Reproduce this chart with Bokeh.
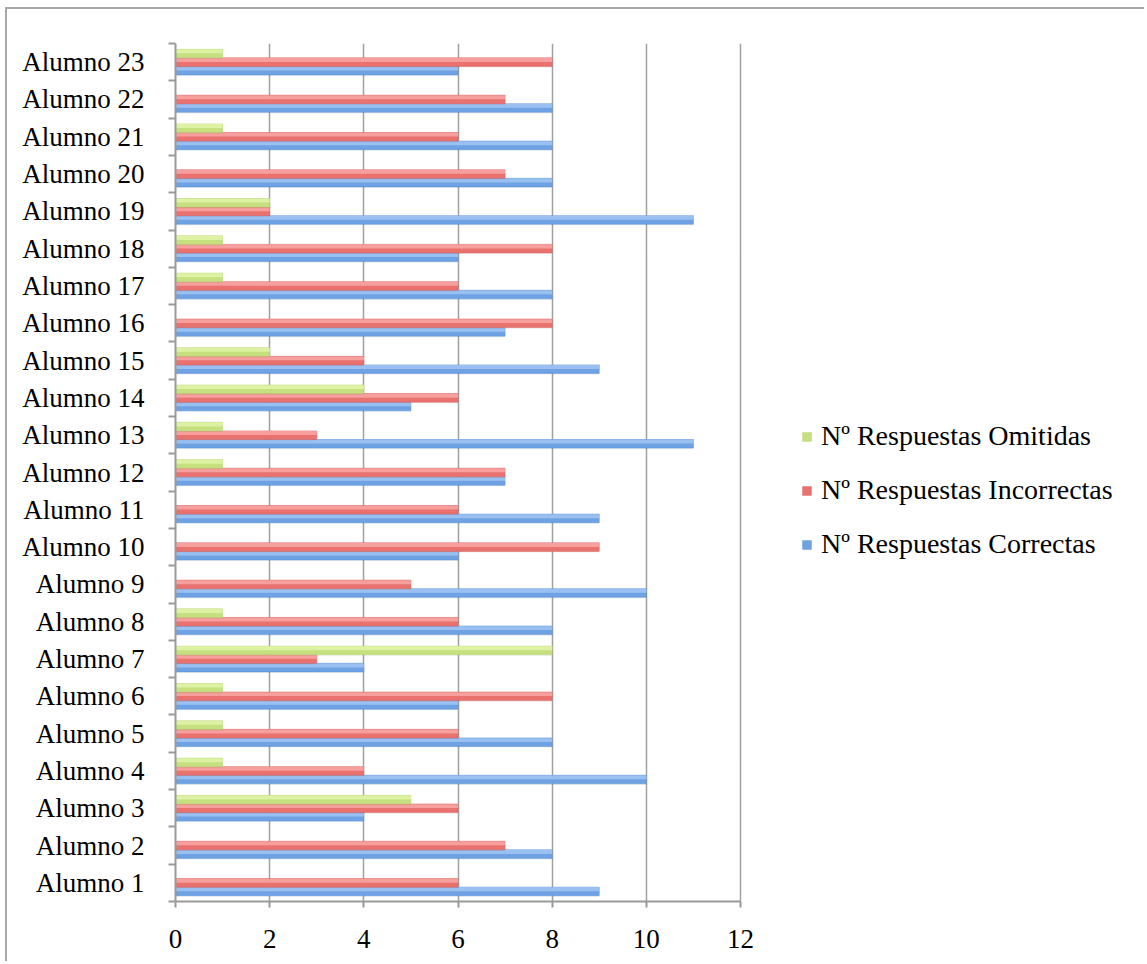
from bokeh.plotting import figure
from bokeh.models import (ColumnDataSource, FixedTicker, Legend, LegendItem, Range1d)
from bokeh.transform import dodge
from bokeh.embed import file_html
from bokeh.resources import INLINE

alumnos = [f"Alumno {i}" for i in range(1, 24)]
correctas =   [9, 8, 4, 10, 8, 6, 4, 8, 10, 6, 9, 7, 11, 5, 9, 7, 8, 6, 11, 8, 8, 8, 6]
incorrectas = [6, 7, 6, 4, 6, 8, 3, 6, 5, 9, 6, 7, 3, 6, 4, 8, 6, 8, 2, 7, 6, 7, 8]
omitidas =    [0, 0, 5, 1, 1, 1, 8, 1, 0, 0, 0, 1, 1, 4, 2, 0, 1, 1, 2, 0, 1, 0, 1]
series_names = ["Nº Respuestas Correctas", "Nº Respuestas Incorrectas", "Nº Respuestas Omitidas"]
x_ticks = [0, 2, 4, 6, 8, 10, 12]

FONT = "Liberation Serif"
FS = "27px"
W, H = 1139, 954
BL = 168                      # left border (canvas px)
axis_px = 565                 # pixel length of 0..12 on the axis
frame_w = W - BL
x_end = x_ticks[-1] * frame_w / axis_px

pos = list(range(1, len(alumnos) + 1))
src = ColumnDataSource(dict(y=pos, corr=correctas, inc=incorrectas, om=omitidas))

p = figure(width=W, height=H, output_backend="svg", toolbar_location=None,
           x_range=Range1d(0, x_end), y_range=Range1d(0.5, 23.5),
           min_border_left=BL, min_border_right=0, min_border_top=34,
           min_border_bottom=62, outline_line_color=None,
           styles={"border-left": "2px solid #a8a8a8", "border-top": "2px solid #a8a8a8",
                   "margin-left": "5px", "margin-top": "7px"})

bh = 0.23
specs = [("corr", -bh, "#6ea2e3", "#a2c6f4", "#5690d6"),
         ("inc", 0.0, "#e9726f", "#f8a7a5", "#d95f5d"),
         ("om", bh, "#c6e07f", "#e0f4a8", "#b6d46e")]
renderers = {}
for col, off, base, light, edge in specs:
    # soft shadow
    p.hbar(y=dodge("y", off - 0.03, range=p.y_range), right=col, left=0, height=bh,
           source=src, fill_color="#000000", fill_alpha=0.06, line_color=None)
    r = p.hbar(y=dodge("y", off, range=p.y_range), right=col, left=0, height=bh, source=src,
               fill_color=base, line_color=edge, line_width=0.5)
    p.hbar(y=dodge("y", off + bh * 0.25, range=p.y_range), right=col, left=0,
           height=bh * 0.45, source=src, fill_color=light, fill_alpha=0.85, line_color=None)
    renderers[col] = r

p.xaxis.ticker = FixedTicker(ticks=x_ticks)
p.xaxis.bounds = (x_ticks[0], x_ticks[-1])
p.xaxis.axis_line_color = "#9a9a9a"
p.xaxis.axis_line_width = 2
p.xaxis.major_tick_line_color = "#9a9a9a"
p.xaxis.major_tick_line_width = 2
p.xaxis.major_tick_out = 6
p.xaxis.major_tick_in = 0
p.xaxis.minor_tick_line_color = None
p.xaxis.major_label_text_font = FONT
p.xaxis.major_label_text_font_size = FS
p.xaxis.major_label_text_color = "#000000"
p.xaxis.major_label_standoff = 22

p.yaxis.ticker = FixedTicker(ticks=pos, minor_ticks=[i + 0.5 for i in range(0, 24)])
p.yaxis.major_label_overrides = {i: n for i, n in zip(pos, alumnos)}
p.yaxis.axis_line_color = "#9a9a9a"
p.yaxis.axis_line_width = 2
p.yaxis.major_tick_line_color = None
p.yaxis.minor_tick_line_color = "#9a9a9a"
p.yaxis.minor_tick_line_width = 2
p.yaxis.minor_tick_out = 7
p.yaxis.minor_tick_in = 0
p.yaxis.major_label_text_font = FONT
p.yaxis.major_label_text_font_size = FS
p.yaxis.major_label_text_color = "#000000"
p.yaxis.major_label_standoff = 24

p.xgrid.ticker = FixedTicker(ticks=x_ticks)
p.xgrid.grid_line_color = "#a0a0a0"
p.xgrid.grid_line_width = 1.5
p.ygrid.grid_line_color = None

legend = Legend(items=[LegendItem(label=series_names[2], renderers=[renderers["om"]]),
                       LegendItem(label=series_names[1], renderers=[renderers["inc"]]),
                       LegendItem(label=series_names[0], renderers=[renderers["corr"]])],
                location=(626, 341), orientation="vertical",
                glyph_width=11, glyph_height=11, label_height=24,
                spacing=22, padding=0, margin=0, label_standoff=9,
                label_text_font=FONT, label_text_font_size="28px",
                label_text_color="#000000",
                border_line_color=None, background_fill_alpha=0)
p.add_layout(legend, "center")

open("out.html", "w").write(file_html(p, INLINE))
